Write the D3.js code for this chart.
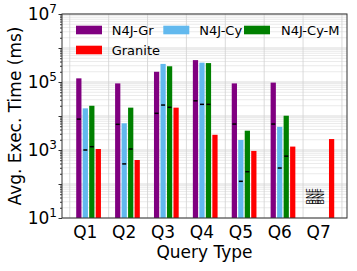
<!DOCTYPE html>
<html>
<head>
<meta charset="utf-8">
<script src="https://cdn.jsdelivr.net/npm/d3@7"></script>
<style>
  body { margin: 0; background: #fff; }
  svg { display: block; font-family: "DejaVu Sans", sans-serif; }
</style>
</head>
<body>
<svg id="chart" width="357" height="271"></svg>
<script>
// chart data
const categories = ["Q1", "Q2", "Q3", "Q4", "Q5", "Q6", "Q7"];
const seriesNames = ["N4J-Gr", "N4J-Cy", "N4J-Cy-M", "Granite"];
const seriesColors = ["#800080", "#62b9ee", "#008000", "#ff0000"];
const n4jGr   = [1.28e5, 9.1e4, 2.0e5, 4.4e5, 9.1e4, 9.6e4, null];
const n4jCy   = [1.68e4, 6.1e3, 3.4e5, 3.7e5, 1.97e3, 4.8e3, null];
const n4jCyM  = [2.0e4, 1.76e4, 2.9e5, 3.6e5, 3.7e3, 1.02e4, null];
const granite = [1.07e3, 508, 1.76e4, 2.8e3, 940, 1.26e3, 2.1e3];
// small black dashes drawn inside the bars
const n4jGrMark  = [8.1e3, 5.7e3, 1.2e4, 2.8e4, 5.8e3, 5.8e3, null];
const n4jCyMark  = [1.0e3, 390, 2.1e4, 2.2e4, 120, 295, null];
const n4jCyMMark = [1.25e3, 1.07e3, 1.8e4, 2.2e4, 230, 660, null];
const yTickLabels = [1, 3, 5, 7];
const missingLabel = "BNF";

const values = [n4jGr, n4jCy, n4jCyM, granite];
const marks = [n4jGrMark, n4jCyMark, n4jCyMMark, null];

const svg = d3.select("#chart");
const margin = {top: 14, right: 10, bottom: 53, left: 62};
const W = 357, H = 271;

let x = d3.scaleLinear().domain([-0.6, 6.73]).range([margin.left, W - margin.right]);
let y = d3.scaleLog().domain([10, 1e7]).range([H - margin.bottom, margin.top]);

const step = 0.167, barW = 0.135;

// grid
let minorVals = [];
for (let e = 1; e < 7; e++) {
  for (let m = 2; m < 10; m++) minorVals.push(m * Math.pow(10, e));
}
let majorVals = d3.range(1, 8).map(e => Math.pow(10, e));

let grid = svg.append("g");
grid.selectAll(".hminor").data(minorVals).enter().append("line")
  .attr("x1", x.range()[0]).attr("x2", x.range()[1])
  .attr("y1", d => y(d)).attr("y2", d => y(d))
  .attr("stroke", "#e4e4e4").attr("stroke-width", 0.8);
grid.selectAll(".hmajor").data(majorVals).enter().append("line")
  .attr("x1", x.range()[0]).attr("x2", x.range()[1])
  .attr("y1", d => y(d)).attr("y2", d => y(d))
  .attr("stroke", "#d0d0d0").attr("stroke-width", 0.8);
grid.selectAll(".vgrid").data(d3.range(0, 8)).enter().append("line")
  .attr("x1", d => x(d - 0.4)).attr("x2", d => x(d - 0.4))
  .attr("y1", y.range()[0]).attr("y2", y.range()[1])
  .attr("stroke", "#d0d0d0").attr("stroke-width", 0.8);

// bars
seriesNames.forEach(function(name, j) {
  let data = values[j].map((v, i) => ({i: i, v: v}));
  svg.append("g").selectAll("rect")
    .data(data.filter(d => d.v !== null))
    .enter().append("rect")
    .attr("x", d => x(d.i + (j - 1) * step - barW / 2))
    .attr("width", x(barW) - x(0))
    .attr("y", d => y(d.v))
    .attr("height", d => y(10) - y(d.v))
    .attr("fill", seriesColors[j]);

  if (marks[j]) {
    svg.append("g").selectAll("line")
      .data(marks[j].map((v, i) => ({i: i, v: v})).filter(d => d.v !== null))
      .enter().append("line")
      .attr("x1", d => x(d.i + (j - 1) * step) - 2)
      .attr("x2", d => x(d.i + (j - 1) * step) + 2)
      .attr("y1", d => y(d.v)).attr("y2", d => y(d.v))
      .attr("stroke", "black").attr("stroke-width", 1.5);
  }

  // missing values
  let missing = data.filter(d => d.v === null);
  svg.append("g").selectAll("text")
    .data(missing)
    .enter().append("text")
    .attr("transform", d => "translate(" + (x(d.i + (j - 1) * step) - 2.5 + (1 - j) * 1) + "," + y(25) + ") rotate(-90)")
    .attr("font-size", 8)
    .attr("dy", "0.35em")
    .text(missingLabel);
});

// axes
let yAxis = d3.axisLeft(y)
  .tickValues(majorVals.concat(minorVals))
  .tickSize(3)
  .tickFormat("");
let ya = svg.append("g").attr("transform", "translate(" + margin.left + ",0)").call(yAxis);
ya.select(".domain").remove();
ya.selectAll(".tick line").attr("stroke", "#333")
  .attr("x2", d => majorVals.includes(d) ? -3.5 : -2);

let labs = svg.append("g").selectAll("text")
  .data(yTickLabels)
  .enter().append("text")
  .attr("x", margin.left - 5)
  .attr("y", d => y(Math.pow(10, d)) + 6)
  .attr("text-anchor", "end")
  .attr("font-size", 17);
labs.append("tspan").text("10");
labs.append("tspan").attr("font-size", 12).attr("dy", -7).text(d => d);

// frame
svg.append("rect")
  .attr("x", margin.left).attr("y", margin.top)
  .attr("width", W - margin.right - margin.left)
  .attr("height", H - margin.bottom - margin.top)
  .attr("fill", "none").attr("stroke", "#333").attr("stroke-width", 1);

// x tick labels
svg.append("g").selectAll("text")
  .data(categories)
  .enter().append("text")
  .attr("x", (d, i) => x(i))
  .attr("y", 238)
  .attr("text-anchor", "middle")
  .attr("font-size", 17)
  .text(d => d);

svg.append("text")
  .attr("x", (x.range()[0] + x.range()[1]) / 2)
  .attr("y", 258)
  .attr("text-anchor", "middle")
  .attr("font-size", 17)
  .text("Query Type");

svg.append("text")
  .attr("transform", "translate(21," + ((y.range()[0] + y.range()[1]) / 2) + ") rotate(-90)")
  .attr("text-anchor", "middle")
  .attr("font-size", 17)
  .text("Avg. Exec. Time (ms)");

// legend
const legendPos = [[76, 25.7, 111.7], [163.3, 25.7, 199.3], [244, 25.7, 281], [76, 45.7, 111.7]];
let leg = svg.append("g").selectAll("g")
  .data(seriesNames)
  .enter().append("g");
leg.append("rect")
  .attr("x", (d, i) => legendPos[i][0])
  .attr("y", (d, i) => legendPos[i][1])
  .attr("width", 26).attr("height", 8.6)
  .attr("fill", (d, i) => seriesColors[i]);
leg.append("text")
  .attr("x", (d, i) => legendPos[i][2])
  .attr("y", (d, i) => legendPos[i][1] + 9)
  .attr("font-size", 13)
  .text(d => d);
</script>
</body>
</html>
